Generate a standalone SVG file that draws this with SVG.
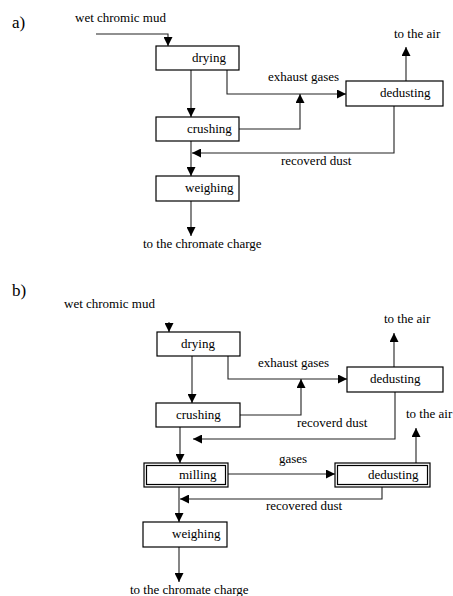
<svg xmlns="http://www.w3.org/2000/svg" width="453" height="596" viewBox="0 0 453 596">
<defs>
<marker id="ah" markerUnits="userSpaceOnUse" markerWidth="10" markerHeight="9" refX="9" refY="4.5" orient="auto">
<path d="M0,0 L9,4.5 L0,9 z" fill="#000"/>
</marker>
<style>
text{font-family:"Liberation Serif","Times New Roman",serif;font-size:13px;fill:#000}
.lbl{font-size:17px}
.box{fill:#fff;stroke:#000;stroke-width:1.2}
.c{fill:none;stroke:#222;stroke-width:1.1;marker-end:url(#ah)}
</style>
</defs>
<rect width="453" height="596" fill="#fff"/>
<text class="lbl" x="12" y="28">a)</text>
<text class="lbl" x="12" y="296">b)</text>

<g id="connectors">
<path class="c" d="M96,34 H168 V46"/>
<path class="c" d="M191,70 V117"/>
<path class="c" d="M227,70 V94 H346"/>
<path class="c" d="M239,129 H300 V94"/>
<path class="c" d="M406,81 V47"/>
<path class="c" d="M394,106 V153 H192"/>
<path class="c" d="M191,141 V176"/>
<path class="c" d="M191,201 V236"/>
<path class="c" d="M169,322 V332"/>
<path class="c" d="M192,356 V403"/>
<path class="c" d="M228,356 V379 H347"/>
<path class="c" d="M240,415 H301 V379"/>
<path class="c" d="M394,367 V333"/>
<path class="c" d="M395,392 V439 H193"/>
<path class="c" d="M180,427 V463"/>
<path class="c" d="M416,463 V428"/>
<path class="c" d="M228,474 H335"/>
<path class="c" d="M382,487 V499 H180"/>
<path class="c" d="M179,487 V522"/>
<path class="c" d="M179,547 V582"/>
</g>

<g id="labels">
<text x="75" y="22">wet chromic mud</text>
<text x="268" y="81">exhaust gases</text>
<text x="394" y="38">to the air</text>
<text x="281" y="165">recoverd dust</text>
<text x="143" y="248">to the chromate charge</text>
<text x="64" y="308">wet chromic mud</text>
<text x="258" y="367">exhaust gases</text>
<text x="384" y="323">to the air</text>
<text x="297" y="427">recoverd dust</text>
<text x="406" y="418">to the air</text>
<text x="279" y="463">gases</text>
<text x="266" y="510">recovered dust</text>
<text x="130" y="594">to the chromate charge</text>
</g>

<g id="a-drying"><rect class="box" x="156" y="46" width="83" height="24"/><text x="192" y="62">drying</text></g>
<g id="a-crushing"><rect class="box" x="156" y="117" width="83" height="24"/><text x="187" y="133">crushing</text></g>
<g id="a-dedusting"><rect class="box" x="346" y="81" width="97" height="25"/><text x="380" y="97">dedusting</text></g>
<g id="a-weighing"><rect class="box" x="156" y="176" width="83" height="25"/><text x="185" y="192">weighing</text></g>

<g id="b-drying"><rect class="box" x="157" y="332" width="83" height="24"/><text x="181" y="348">drying</text></g>
<g id="b-crushing"><rect class="box" x="156" y="403" width="84" height="24"/><text x="176" y="419">crushing</text></g>
<g id="b-dedusting"><rect class="box" x="347" y="367" width="96" height="25"/><text x="370" y="383">dedusting</text></g>
<g id="b-milling"><rect class="box" x="144" y="463" width="84" height="24"/><rect class="box" x="146.5" y="465.5" width="79" height="19"/><text x="179" y="479">milling</text></g>
<g id="b-dedusting2"><rect class="box" x="335" y="463" width="95" height="24"/><rect class="box" x="337.5" y="465.5" width="90" height="19"/><text x="368" y="479">dedusting</text></g>
<g id="b-weighing"><rect class="box" x="143" y="522" width="84" height="25"/><text x="172" y="538">weighing</text></g>
</svg>
